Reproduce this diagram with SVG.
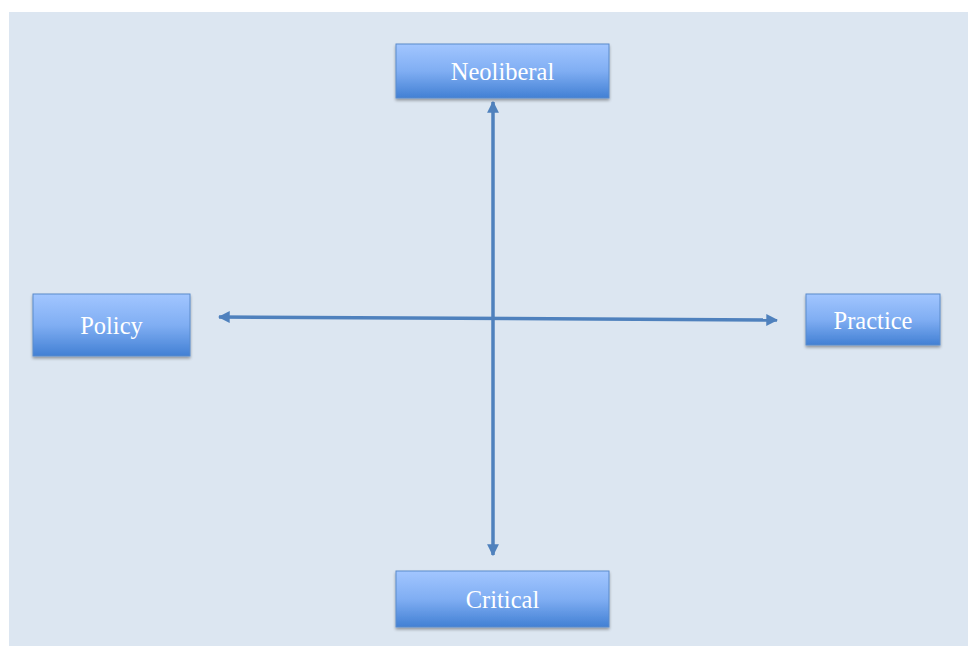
<svg xmlns="http://www.w3.org/2000/svg" width="968" height="646" viewBox="0 0 968 646">
<defs>
<linearGradient id="g" x1="0" y1="0" x2="0" y2="1">
<stop offset="0" stop-color="#a2c6ff"/>
<stop offset="0.5" stop-color="#80aef3"/>
<stop offset="1" stop-color="#4280d4"/>
</linearGradient>
<filter id="sh" x="-10%" y="-20%" width="120%" height="150%">
<feGaussianBlur in="SourceAlpha" stdDeviation="1.5"/>
<feOffset dx="0" dy="2" result="b"/>
<feComponentTransfer><feFuncA type="linear" slope="0.35"/></feComponentTransfer>
<feMerge><feMergeNode/><feMergeNode in="SourceGraphic"/></feMerge>
</filter>
<marker id="ah" viewBox="0 0 10 10" refX="9" refY="5" markerWidth="3.4" markerHeight="3.4" orient="auto-start-reverse" markerUnits="strokeWidth">
<path d="M0,0 L10,5 L0,10 Z" fill="#4f81bd"/>
</marker>
</defs>
<style>
.box{fill:url(#g);stroke:#5b8bcb;stroke-width:1;filter:url(#sh)}
.lbl{font-family:"Liberation Serif","Times New Roman",serif;font-size:24.5px;fill:#ffffff;text-anchor:middle}
.con{stroke:#4f81bd;stroke-width:3.5;fill:none}
</style>
<rect x="0" y="0" width="968" height="646" fill="#ffffff"/>
<rect x="9" y="12" width="959" height="634" fill="#dce6f1"/>
<g id="connectors">
<line class="con" x1="493" y1="555" x2="493" y2="102" marker-start="url(#ah)" marker-end="url(#ah)"/>
<line class="con" x1="219" y1="317" x2="777" y2="320" marker-start="url(#ah)" marker-end="url(#ah)"/>
</g>
<g id="neoliberal">
<rect class="box" x="396" y="44" width="213" height="54"/>
<text class="lbl" x="502.5" y="80">Neoliberal</text>
</g>
<g id="policy">
<rect class="box" x="33" y="294" width="157" height="62"/>
<text class="lbl" x="111.5" y="334">Policy</text>
</g>
<g id="practice">
<rect class="box" x="806" y="294" width="134" height="51"/>
<text class="lbl" x="873" y="329">Practice</text>
</g>
<g id="critical">
<rect class="box" x="396" y="571" width="213" height="56"/>
<text class="lbl" x="502.5" y="608">Critical</text>
</g>
</svg>
